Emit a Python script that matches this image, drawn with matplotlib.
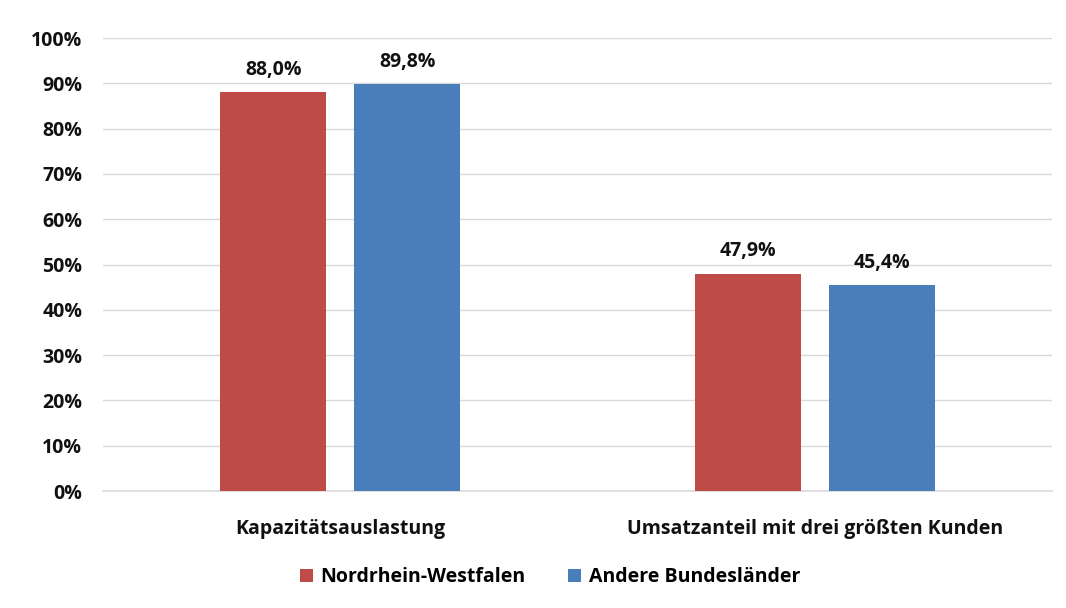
import matplotlib
matplotlib.use("Agg")
import matplotlib.pyplot as plt
import numpy as np
from matplotlib.ticker import FuncFormatter

plt.rcParams["font.family"] = ["Open Sans", "DejaVu Sans"]
plt.rcParams["font.weight"] = "bold"

categories = ["Kapazitätsauslastung", "Umsatzanteil mit drei größten Kunden"]
series_names = ["Nordrhein-Westfalen", "Andere Bundesländer"]
nrw = [88.0, 47.9]
andere = [89.8, 45.4]
colors = ["#BE4B48", "#4A7EBB"]

fs = 14

fig = plt.figure(figsize=(10.66, 6.08), dpi=100)
ax = fig.add_axes([0.0966, 0.1924, 0.8903, 0.7451])

x = np.arange(len(categories))
width = 0.223
offset = 0.141

for vals, name, col, off in [(nrw, series_names[0], colors[0], -offset),
                              (andere, series_names[1], colors[1], offset)]:
    bars = ax.bar(x + off, vals, width, color=col, label=name, zorder=3)
    for b, v in zip(bars, vals):
        ax.text(b.get_x() + b.get_width() / 2, v + 2.8, f"{v:.1f}%".replace(".", ","),
                ha="center", va="bottom", fontsize=fs, fontweight="bold", color="#111111")

ax.set_xlim(-0.5, 1.5)
ax.set_ylim(0, 100)
ax.set_yticks(np.arange(0, 101, 10))
ax.yaxis.set_major_formatter(FuncFormatter(lambda v, p: f"{v:.0f}%"))
ax.set_xticks(x)
ax.set_xticklabels(categories)
ax.grid(axis="y", color="#D9D9D9", linewidth=1.0, zorder=0)
for s in ["top", "right", "left"]:
    ax.spines[s].set_visible(False)
ax.spines["bottom"].set_color("#D9D9D9")
ax.spines["bottom"].set_linewidth(1.2)
ax.tick_params(axis="both", length=0, labelsize=fs, colors="#111111")
ax.tick_params(axis="x", pad=20)
ax.tick_params(axis="y", pad=15)

fig.legend(loc="center", bbox_to_anchor=(0.516, 0.051), ncol=2, frameon=False,
           fontsize=fs, handlelength=0.65, handleheight=0.65, handletextpad=0.4,
           columnspacing=2.2)

fig.savefig("out.png", dpi=100)
